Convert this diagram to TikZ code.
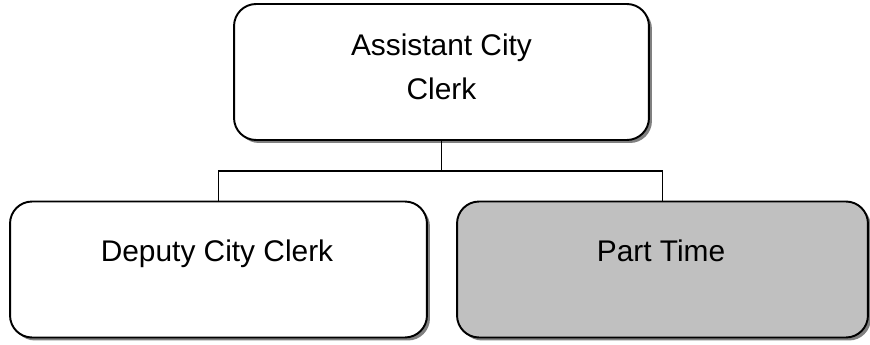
\documentclass[tikz,border=0pt]{standalone}
\usepackage{fontspec}
\setmainfont{Liberation Sans}
\usetikzlibrary{shadows}
\definecolor{boxgray}{HTML}{C0C0C0}
\definecolor{shadowgray}{HTML}{808080}
\tikzset{
  orgbox/.style={draw=black, line width=1.1pt, rounded corners=0.44cm, fill=white,
    inner sep=0pt,
    drop shadow={shadow xshift=0.06cm, shadow yshift=-0.06cm, fill=shadowgray, opacity=1}},
  orgtext/.style={inner sep=0pt, align=center, anchor=base, font=\fontsize{17}{25}\selectfont},
  conn/.style={draw=black, line width=0.9pt}
}
\begin{document}
\begin{tikzpicture}[x=0.02cm, y=-0.02cm]
\useasboundingbox (0,0) rectangle (870,345);
\node[orgbox, minimum width=8.3cm, minimum height=2.72cm] (top) at (441.5,72) {};
\node[orgbox, minimum width=8.34cm, minimum height=2.72cm] (left) at (218.5,269.5) {};
\node[orgbox, fill=boxgray, minimum width=8.22cm, minimum height=2.72cm] (right) at (662.5,269.5) {};
\node[orgtext] (toptext) at (441.5,99) {Assistant City\\Clerk};
\node[orgtext] (lefttext) at (217,261) {Deputy City Clerk};
\node[orgtext] (righttext) at (661,261) {Part Time};
\coordinate (j) at (441.5,171);
\draw[conn] (top.south) -- (j);
\draw[conn] (left.north) |- (j) -| (right.north);
\end{tikzpicture}
\end{document}
